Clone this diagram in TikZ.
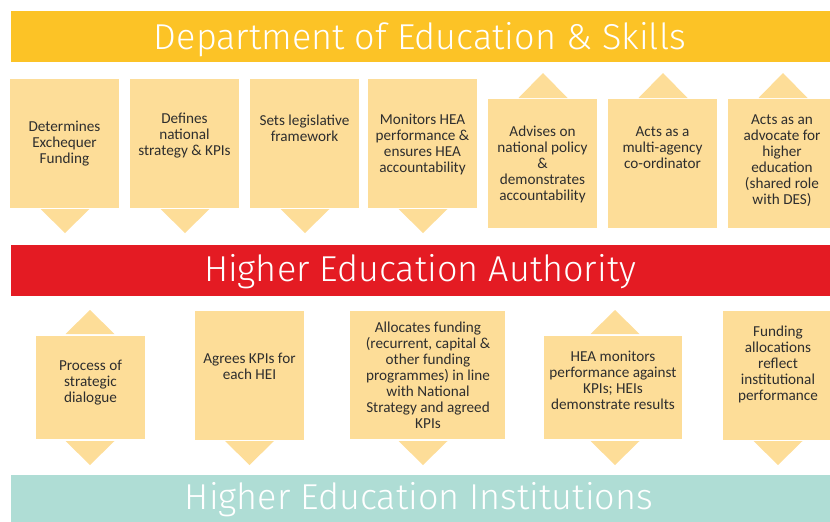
\documentclass[tikz,border=0pt]{standalone}
\usepackage{fontspec}
\setmainfont{Carlito}
\newfontfamily\titlefont{Fira Sans Light}
\definecolor{goldc}{HTML}{FCC326}
\definecolor{boxc}{HTML}{FDDD98}
\definecolor{redc}{HTML}{E41B23}
\definecolor{tealc}{HTML}{AFDDD5}
\definecolor{txtc}{HTML}{2E2E2E}
\begin{document}
\begin{tikzpicture}[x=1pt,y=-1pt,
  bar/.style={inner sep=0pt,outer sep=0pt,anchor=north west,draw=none},
  boxn/.style={fill=boxc,inner sep=0pt,outer sep=0pt,anchor=north west,draw=none},
  ttl/.style={text=white,font=\titlefont\fontsize{36}{36}\selectfont,inner sep=0pt,text height=26pt,text depth=0pt},
  lbl/.style={text=txtc,font=\fontsize{15.2}{16}\selectfont,align=center,inner sep=0pt},
  tri/.style={fill=boxc,draw=none}]
\useasboundingbox (0,0) rectangle (830,522);
% bars
\node[bar,fill=goldc,minimum width=819pt,minimum height=51pt] (des) at (11,11) {};
\node[bar,fill=redc,minimum width=819pt,minimum height=51pt] (hea) at (11,245) {};
\node[bar,fill=tealc,minimum width=819pt,minimum height=47pt] (hei) at (11,475) {};
\node[ttl] (tdes) at (420,36) {Department of Education \& Skills};
\node[ttl] (thea) at (420,268) {Higher Education Authority};
\node[ttl] (thei) at (419,496) {Higher Education Institutions};
% top boxes
\node[boxn,minimum width=109pt,minimum height=129pt] (b1) at (10,79) {};
\node[boxn,minimum width=109pt,minimum height=129pt] (b2) at (130,79) {};
\node[boxn,minimum width=109pt,minimum height=129pt] (b3) at (250,79) {};
\node[boxn,minimum width=109pt,minimum height=129pt] (b4) at (368,79) {};
\node[boxn,minimum width=109pt,minimum height=129pt] (b5) at (488,99) {};
\node[boxn,minimum width=109pt,minimum height=129pt] (b6) at (608,99) {};
\node[boxn,minimum width=110pt,minimum height=129pt] (b7) at (728,99) {};
% top triangles
\fill[tri] (40.5,209) -- (89.5,209) -- (65,233) -- cycle;
\fill[tri] (160.5,209) -- (209.5,209) -- (185,233) -- cycle;
\fill[tri] (280.5,209) -- (329.5,209) -- (305,233) -- cycle;
\fill[tri] (398.5,209) -- (447.5,209) -- (423,233) -- cycle;
\fill[tri] (518.5,98) -- (567.5,98) -- (543,73) -- cycle;
\fill[tri] (638.5,98) -- (687.5,98) -- (663,73) -- cycle;
\fill[tri] (758.5,98) -- (807.5,98) -- (783,73) -- cycle;
% top labels
\node[lbl] (l1) at (64.5,144) {Determines\\Exchequer\\Funding};
\node[lbl] (l2) at (184.5,136) {Defines\\national\\strategy \& KPIs};
\node[lbl] (l3) at (304.5,128) {Sets legislative\\framework};
\node[lbl] (l4) at (422.5,144) {Monitors HEA\\performance \&\\ensures HEA\\accountability};
\node[lbl] (l5) at (542.5,164) {Advises on\\national policy\\\&\\demonstrates\\accountability};
\node[lbl] (l6) at (662.5,148) {Acts as a\\multi-agency\\co-ordinator};
\node[lbl] (l7) at (782,161) {Acts as an\\advocate for\\higher\\education\\(shared role\\with DES)};
% bottom boxes
\node[boxn,minimum width=109pt,minimum height=103pt] (c1) at (36,336) {};
\node[boxn,minimum width=109pt,minimum height=129pt] (c2) at (195,311) {};
\node[boxn,minimum width=155pt,minimum height=128pt] (c3) at (350,311) {};
\node[boxn,minimum width=138pt,minimum height=103pt] (c4) at (544,336) {};
\node[boxn,minimum width=110pt,minimum height=129pt] (c5) at (723,311) {};
% bottom triangles
\fill[tri] (65.5,334) -- (114.5,334) -- (90,310) -- cycle;
\fill[tri] (65.5,441) -- (114.5,441) -- (90,465) -- cycle;
\fill[tri] (225,441) -- (274,441) -- (249.5,465) -- cycle;
\fill[tri] (398.5,441) -- (447.5,441) -- (423,465) -- cycle;
\fill[tri] (590.5,334) -- (639.5,334) -- (615,310) -- cycle;
\fill[tri] (590.5,441) -- (639.5,441) -- (615,465) -- cycle;
\fill[tri] (753.5,441) -- (802.5,441) -- (778,465) -- cycle;
% bottom labels
\node[lbl] (m1) at (90.5,383) {Process of\\strategic\\dialogue};
\node[lbl] (m2) at (249.5,366) {Agrees KPIs for\\each HEI};
\node[lbl] (m3) at (428,375) {Allocates funding\\(recurrent, capital \&\\other funding\\programmes) in line\\with National\\Strategy and agreed\\KPIs};
\node[lbl] (m4) at (613,380) {HEA monitors\\performance against\\KPIs; HEIs\\demonstrate results};
\node[lbl] (m5) at (778,364) {Funding\\allocations\\reflect\\institutional\\performance};
\end{tikzpicture}
\end{document}
